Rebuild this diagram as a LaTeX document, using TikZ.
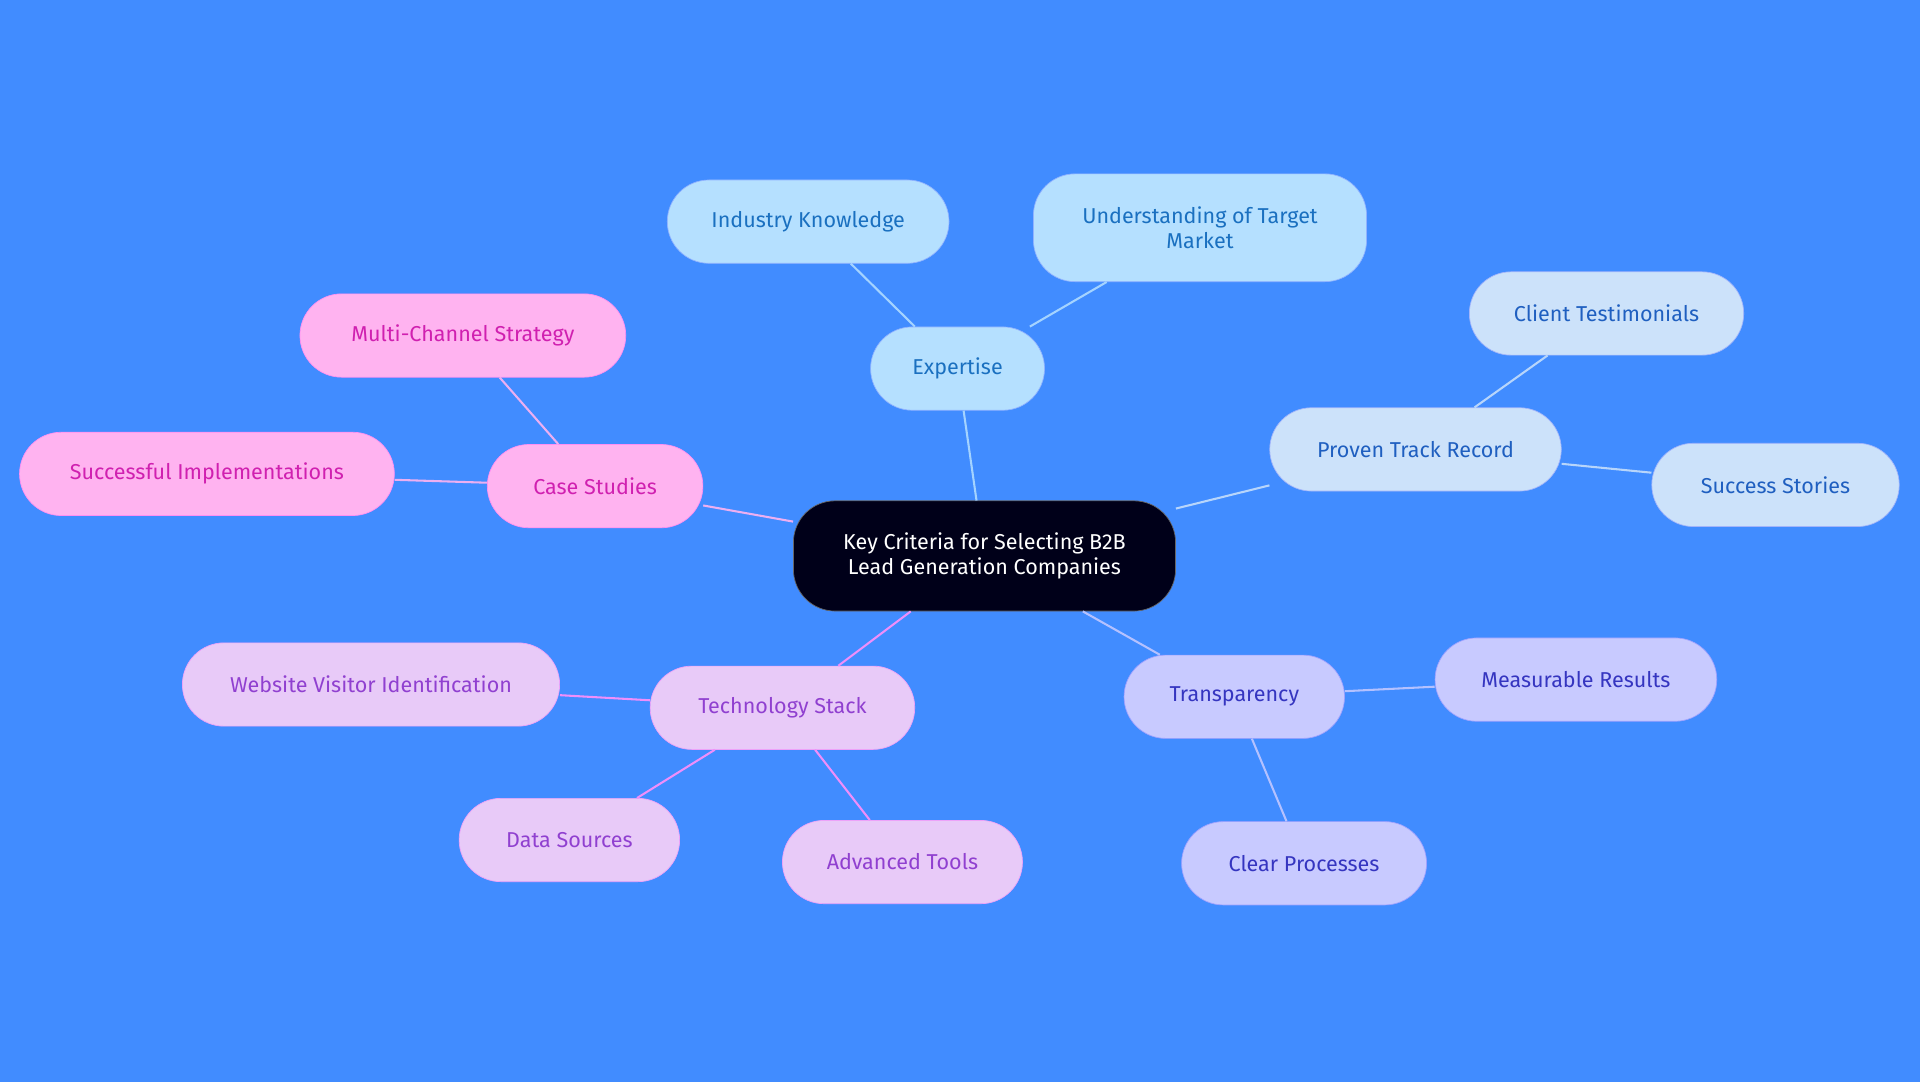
\documentclass[tikz,border=0pt]{standalone}
\usepackage{fontspec}
\setmainfont{Fira Sans}
\definecolor{bgblue}{HTML}{418CFF}
\definecolor{expfill}{HTML}{B5E0FF}\definecolor{exptext}{HTML}{1A70C0}
\definecolor{profill}{HTML}{CCE2FA}\definecolor{protext}{HTML}{1F5FC0}
\definecolor{casfill}{HTML}{FFB3F0}\definecolor{castext}{HTML}{D020B0}
\definecolor{tecfill}{HTML}{E8CAF8}\definecolor{tectext}{HTML}{9040D0}
\definecolor{trafill}{HTML}{C8CAFF}\definecolor{tratext}{HTML}{3535C0}
\tikzset{
  box/.style={rounded corners=0.85cm, minimum height=1.7cm, align=center, font=\fontsize{12.5}{14}\selectfont, inner xsep=0.6cm},
  exp/.style={box, fill=expfill, draw=expfill!80!blue, text=exptext},
  pro/.style={box, fill=profill, draw=profill!80!blue, text=protext},
  cas/.style={box, fill=casfill, draw=casfill!80!magenta, text=castext},
  tec/.style={box, fill=tecfill, draw=tecfill!80!magenta, text=tectext},
  tra/.style={box, fill=trafill, draw=trafill!80!blue, text=tratext},
  link/.style={line width=1.2pt}
}
\begin{document}
\begin{tikzpicture}[x=0.025cm,y=-0.025cm]
\fill[bgblue] (0,0) rectangle (1568,884);
% root
\node[box, fill=black!90!blue, draw=black!60, text=white, minimum width=7.8cm, minimum height=2.25cm] (root) at (804,454) {Key Criteria for Selecting B2B\\Lead Generation Companies};
% expertise
\node[exp, minimum width=3.55cm] (expertise) at (782,301) {Expertise};
\node[exp, minimum width=5.75cm] (industry) at (660,181) {Industry Knowledge};
\node[exp, minimum width=6.8cm, minimum height=2.2cm] (market) at (980,186) {Understanding of Target\\Market};
% proven track record
\node[pro, minimum width=5.95cm] (proven) at (1156,367) {Proven Track Record};
\node[pro, minimum width=5.6cm] (testimonials) at (1312,256) {Client Testimonials};
\node[pro, minimum width=5.05cm] (stories) at (1450,396) {Success Stories};
% case studies
\node[cas, minimum width=4.4cm] (cases) at (486,397) {Case Studies};
\node[cas, minimum width=6.65cm] (multichannel) at (378,274) {Multi-Channel Strategy};
\node[cas, minimum width=7.65cm] (implementations) at (169,387) {Successful Implementations};
% technology stack
\node[tec, minimum width=5.4cm] (techstack) at (639,578) {Technology Stack};
\node[tec, minimum width=7.7cm] (visitor) at (303,559) {Website Visitor Identification};
\node[tec, minimum width=4.5cm] (datasources) at (465,686) {Data Sources};
\node[tec, minimum width=4.9cm] (tools) at (737,704) {Advanced Tools};
% transparency
\node[tra, minimum width=4.5cm] (transparency) at (1008,569) {Transparency};
\node[tra, minimum width=5.75cm] (measurable) at (1287,555) {Measurable Results};
\node[tra, minimum width=5cm] (processes) at (1065,705) {Clear Processes};
% links
\begin{scope}[on background layer/.style={}]
\draw[link, expfill!85!bgblue] (root) -- (expertise) (expertise) -- (industry) (expertise) -- (market);
\draw[link, profill!85!bgblue] (root) -- (proven) (proven) -- (testimonials) (proven) -- (stories);
\draw[link, casfill!90!bgblue] (root) -- (cases) (cases) -- (multichannel) (cases) -- (implementations);
\draw[link, tecfill!70!magenta] (root) -- (techstack) (techstack) -- (visitor) (techstack) -- (datasources) (techstack) -- (tools);
\draw[link, trafill!85!bgblue] (root) -- (transparency) (transparency) -- (measurable) (transparency) -- (processes);
\end{scope}
\end{tikzpicture}
\end{document}
